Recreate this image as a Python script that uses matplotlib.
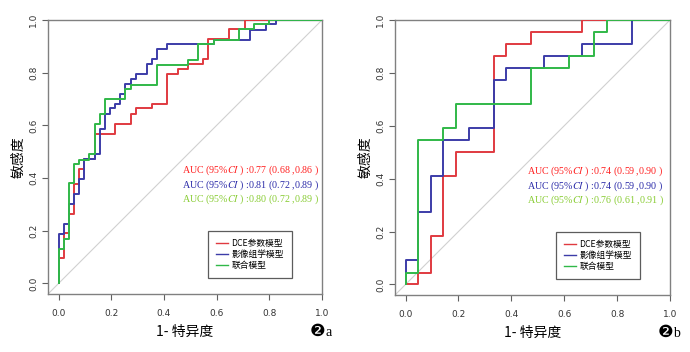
import matplotlib
matplotlib.use("Agg")
import matplotlib.pyplot as plt

plt.rcParams['mathtext.fontset'] = 'stix'

# ---- data: ROC step curves (1-specificity, sensitivity) ----
a_dce_x = [0, 0, 0.02, 0.02, 0.04, 0.04, 0.058, 0.058, 0.077, 0.077, 0.096, 0.096, 0.139, 0.139,
           0.215, 0.215, 0.275, 0.275, 0.294, 0.294, 0.353, 0.353, 0.413, 0.413, 0.452, 0.452,
           0.49, 0.49, 0.549, 0.549, 0.568, 0.568, 0.648, 0.648, 0.706, 0.706, 1.0]
a_dce_y = [0, 0.095, 0.095, 0.19, 0.19, 0.265, 0.265, 0.379, 0.379, 0.436, 0.436, 0.474, 0.474, 0.569,
           0.569, 0.607, 0.607, 0.642, 0.642, 0.665, 0.665, 0.68, 0.68, 0.796, 0.796, 0.815,
           0.815, 0.832, 0.832, 0.853, 0.853, 0.927, 0.927, 0.965, 0.965, 1.0, 1.0]

a_rad_x = [0, 0, 0.02, 0.02, 0.038, 0.038, 0.058, 0.058, 0.077, 0.077, 0.096, 0.096, 0.139, 0.139,
           0.157, 0.157, 0.176, 0.176, 0.195, 0.195, 0.215, 0.215, 0.233, 0.233, 0.254, 0.254,
           0.275, 0.275, 0.294, 0.294, 0.334, 0.334, 0.353, 0.353, 0.372, 0.372, 0.413, 0.413,
           0.59, 0.59, 0.726, 0.726, 0.787, 0.787, 0.825, 0.825, 1.0]
a_rad_y = [0, 0.187, 0.187, 0.225, 0.225, 0.30, 0.30, 0.34, 0.34, 0.395, 0.395, 0.474, 0.474, 0.493,
           0.493, 0.588, 0.588, 0.645, 0.645, 0.665, 0.665, 0.683, 0.683, 0.718, 0.718, 0.758,
           0.758, 0.775, 0.775, 0.794, 0.794, 0.832, 0.832, 0.853, 0.853, 0.889, 0.889, 0.91,
           0.91, 0.925, 0.925, 0.963, 0.963, 0.986, 0.986, 1.0, 1.0]

a_com_x = [0, 0, 0.02, 0.02, 0.038, 0.038, 0.058, 0.058, 0.077, 0.077, 0.117, 0.117, 0.139, 0.139,
           0.157, 0.157, 0.176, 0.176, 0.254, 0.254, 0.275, 0.275, 0.372, 0.372, 0.49, 0.49,
           0.53, 0.53, 0.59, 0.59, 0.686, 0.686, 0.742, 0.742, 0.80, 0.80, 1.0]
a_com_y = [0, 0.13, 0.13, 0.17, 0.17, 0.38, 0.38, 0.453, 0.453, 0.47, 0.47, 0.49, 0.49, 0.605,
           0.605, 0.642, 0.642, 0.70, 0.70, 0.737, 0.737, 0.755, 0.755, 0.83, 0.83, 0.85,
           0.85, 0.91, 0.91, 0.925, 0.925, 0.965, 0.965, 0.984, 0.984, 1.0, 1.0]

b_dce_x = [0, 0.048, 0.048, 0.095, 0.095, 0.143, 0.143, 0.19, 0.19, 0.333, 0.333, 0.381, 0.381,
           0.476, 0.476, 0.667, 0.667, 1.0]
b_dce_y = [0, 0, 0.045, 0.045, 0.182, 0.182, 0.409, 0.409, 0.5, 0.5, 0.864, 0.864, 0.909,
           0.909, 0.955, 0.955, 1.0, 1.0]

b_rad_x = [0, 0, 0.048, 0.048, 0.095, 0.095, 0.143, 0.143, 0.238, 0.238, 0.333, 0.333, 0.381, 0.381,
           0.524, 0.524, 0.667, 0.667, 0.857, 0.857, 1.0]
b_rad_y = [0, 0.091, 0.091, 0.273, 0.273, 0.409, 0.409, 0.545, 0.545, 0.591, 0.591, 0.773, 0.773, 0.818,
           0.818, 0.864, 0.864, 0.909, 0.909, 1.0, 1.0]

b_com_x = [0, 0, 0.048, 0.048, 0.143, 0.143, 0.19, 0.19, 0.476, 0.476, 0.619, 0.619, 0.714, 0.714,
           0.762, 0.762, 1.0]
b_com_y = [0, 0.045, 0.045, 0.545, 0.545, 0.591, 0.591, 0.682, 0.682, 0.818, 0.818, 0.864, 0.864, 0.955,
           0.955, 1.0, 1.0]

model_names = ['DCE参数模型', '影像组学模型', '联合模型']
auc_a = [('0.77', '0.68', '0.86'), ('0.81', '0.72', '0.89'), ('0.80', '0.72', '0.89')]
auc_b = [('0.74', '0.59', '0.90'), ('0.74', '0.59', '0.90'), ('0.76', '0.61', '0.91')]
ticks = [0.0, 0.2, 0.4, 0.6, 0.8, 1.0]

line_colors = ['#e03a40', '#3c3ca8', '#30b848']
text_colors = ['#ff2020', '#2a2aa8', '#88cc33']
cjk = ['Noto Sans CJK SC', 'DejaVu Sans']

fig = plt.figure(figsize=(6.9, 3.52), dpi=100)
ax_a = fig.add_axes([48 / 690, 1 - 294 / 352, 274 / 690, 274 / 352])
ax_b = fig.add_axes([395 / 690, 1 - 295 / 352, 275 / 690, 275 / 352])

panels = [
    (ax_a, [(a_dce_x, a_dce_y), (a_rad_x, a_rad_y), (a_com_x, a_com_y)], auc_a, 'a', 0.47),
    (ax_b, [(b_dce_x, b_dce_y), (b_rad_x, b_rad_y), (b_com_x, b_com_y)], auc_b, 'b', 0.46),
]

for ax, curves, aucs, tag, tx in panels:
    ax.set_xlim(-0.04, 1.0)
    ax.set_ylim(-0.04, 1.0)
    ax.plot([-0.04, 1.0], [-0.04, 1.0], color='#d0d0d0', lw=0.8, zorder=1)
    for (xs, ys), c, name in zip(curves, line_colors, model_names):
        ax.plot(xs, ys, color=c, lw=1.4, label=name, zorder=3)
    for sp in ax.spines.values():
        sp.set_color('#808080')
        sp.set_linewidth(1.0)
    ax.set_xticks(ticks)
    ax.set_yticks(ticks)
    ax.set_xticklabels([f'{t:.1f}' for t in ticks])
    ax.set_yticklabels([f'{t:.1f}' for t in ticks], rotation=90, va='center')
    ax.tick_params(direction='out', length=4, width=0.8, color='#606060',
                   labelsize=6.5, labelcolor='#333333')
    ax.tick_params(axis='x', pad=7)
    ax.tick_params(axis='y', pad=3)
    ax.set_xlabel('1- 特异度', family=cjk, fontsize=10, labelpad=5)
    ax.set_ylabel('敏感度', family=cjk, fontsize=10, labelpad=3)

    for i, (v, lo, hi) in enumerate(aucs):
        ax.text(tx, 0.428 - i * 0.055,
                f'AUC (95%$\\mathit{{CI}}$ ) :{v} ({lo} ,{hi} )',
                color=text_colors[i], family='Liberation Serif', fontsize=7.2,
                ha='left', va='center', zorder=4)

    leg = ax.legend(loc='lower right', bbox_to_anchor=(0.89, 0.058), prop={'family': cjk, 'size': 6.3},
                    frameon=True, fancybox=False, handlelength=1.4, handletextpad=0.4,
                    labelspacing=0.25, borderpad=0.9, borderaxespad=0)
    leg.get_frame().set_edgecolor('#333333')
    leg.get_frame().set_linewidth(0.9)
    for h in leg.get_lines():
        h.set_linewidth(1.0)

    ax.text(0.984, -0.135, '\u2777', transform=ax.transAxes, fontsize=12.5,
            family='DejaVu Sans', ha='center', va='center')
    ax.text(1.012, -0.14, tag, transform=ax.transAxes, fontsize=10,
            family='Liberation Serif', ha='left', va='center')

fig.savefig('out.png', dpi=100)
